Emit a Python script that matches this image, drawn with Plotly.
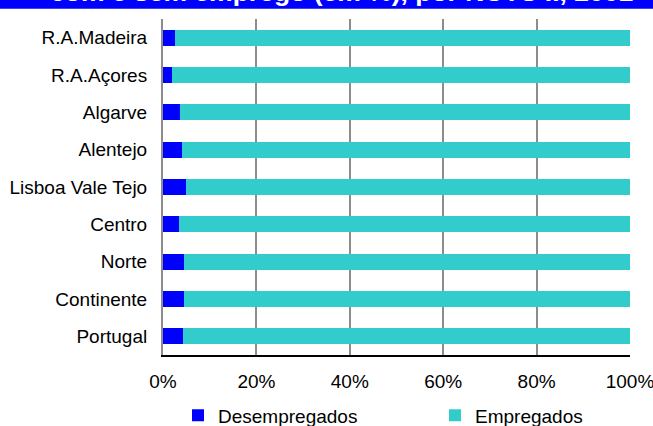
import plotly.graph_objects as go

categories = ["Portugal", "Continente", "Norte", "Centro", "Lisboa Vale Tejo",
              "Alentejo", "Algarve", "R.A.Açores", "R.A.Madeira"]
desempregados = [4.2, 4.4, 4.4, 3.4, 4.9, 4.0, 3.6, 1.9, 2.5]
empregados = [95.8, 95.6, 95.6, 96.6, 95.1, 96.0, 96.4, 98.1, 97.5]
tick_vals = [0, 20, 40, 60, 80, 100]
tick_text = ["0%", "20%", "40%", "60%", "80%", "100%"]
title_text = "com e sem emprego (em %), por NUTS II, 2001"

FONT = "Arial, Liberation Sans, sans-serif"
FS = 19

fig = go.Figure()
fig.add_trace(go.Bar(y=categories, x=desempregados, orientation="h",
                     name="Desempregados", legend="legend",
                     marker=dict(color="#0000FF", line=dict(width=0))))
fig.add_trace(go.Bar(y=categories, x=empregados, orientation="h",
                     name="Empregados", legend="legend2",
                     marker=dict(color="#33CCCC", line=dict(width=0))))

W, H = 653, 426
L, R, T, B = 163, 23, 19, 71
pw, ph = W - L - R, H - T - B

leg_common = dict(orientation="h", xref="container", yref="container",
                  xanchor="left", yanchor="middle", y=1 - 415.5 / H,
                  font=dict(size=FS, family=FONT, color="black"),
                  itemclick=False, bgcolor="rgba(0,0,0,0)", borderwidth=0)

fig.update_layout(
    width=W, height=H,
    margin=dict(l=L, r=R, t=T, b=B, pad=0, autoexpand=False),
    barmode="stack", bargap=0.57,
    plot_bgcolor="white", paper_bgcolor="white",
    font=dict(family=FONT, size=FS, color="black"),
    showlegend=True,
    legend=dict(x=178 / W, **leg_common),
    legend2=dict(x=435 / W, **leg_common),
    xaxis=dict(range=[0, 100], tickvals=tick_vals, ticktext=tick_text,
               showgrid=True, gridcolor="#8c8c8c", gridwidth=2,
               showline=True, linecolor="black", linewidth=2,
               zeroline=False, ticks="outside", ticklen=8, tickcolor="rgba(0,0,0,0)",
               ticklabeloverflow="allow",
               tickfont=dict(size=FS, family=FONT), fixedrange=True, automargin=False),
    yaxis=dict(showgrid=False, showline=True, linecolor="#8c8c8c", linewidth=2,
               zeroline=False, ticks="outside", ticklen=10, tickcolor="rgba(0,0,0,0)",
               tickfont=dict(size=FS, family=FONT), fixedrange=True, automargin=False),
)

fig.add_shape(type="rect", xref="paper", yref="paper",
              x0=-L / pw - 0.05, x1=1 + R / pw + 0.05,
              y0=1 + (T - 8.7) / ph, y1=1 + (T + 20) / ph,
              fillcolor="#0000FF", line=dict(width=0), layer="above")
fig.add_annotation(text="<b>" + title_text + "</b>", xref="paper", yref="paper",
                   x=(341 - L) / pw, y=1 + (T - 9.5) / ph, xanchor="center", yanchor="bottom",
                   showarrow=False, font=dict(color="white", size=26.5, family=FONT))

fig.write_html("out.html", config={"displayModeBar": False},
               post_script="document.body.style.margin='0';")
